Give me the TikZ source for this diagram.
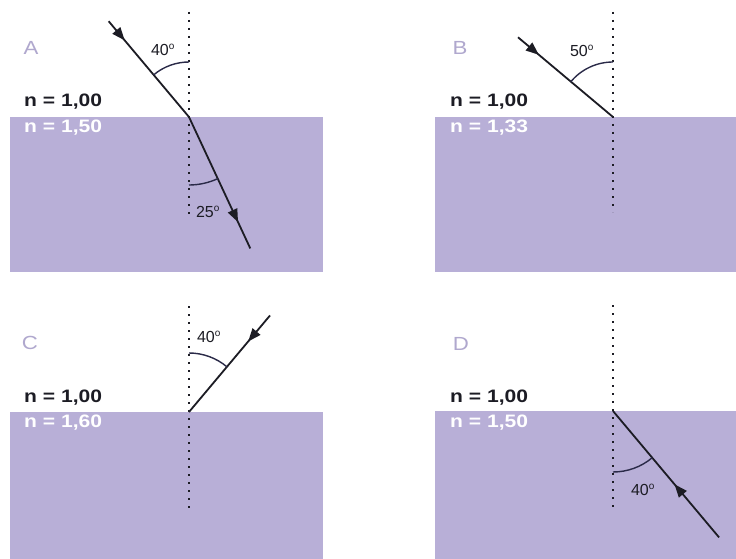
\documentclass[tikz,border=0pt]{standalone}
\usepackage{fontspec}
\setmainfont{Liberation Sans}
\newfontfamily\widesans[FakeStretch=1.17]{Liberation Sans}
\usetikzlibrary{arrows.meta,decorations.markings}
\definecolor{medium}{HTML}{B8AFD7}
\definecolor{letter}{HTML}{B0A8CE}
\definecolor{arccol}{HTML}{2A2A48}
\definecolor{ink}{HTML}{1C1C24}
\tikzset{
  medbox/.style={fill=medium,draw=none},
  normalline/.style={draw=ink,line width=2pt,dash pattern=on 2pt off 6pt},
  ray/.style={draw=ink,line width=1.8pt},
  anglearc/.style={draw=arccol,line width=1.4pt},
  panelletter/.style={text=letter,font=\widesans\fontsize{19}{19}\selectfont,inner sep=0pt},
  nlabel/.style={font=\widesans\fontsize{18}{18}\selectfont\bfseries,inner sep=0pt,anchor=west},
  anglabel/.style={text=ink,font=\fontsize{16}{16}\selectfont,inner sep=0pt},
  midarrow/.style={postaction={decorate},decoration={markings,mark=at position #1 with {\arrow{Triangle[length=13pt,width=10pt]}}}}
}
\newcommand{\dg}{\textsuperscript{\fontsize{10}{10}\selectfont o}}
\begin{document}
\begin{tikzpicture}[x=1pt,y=1pt]
\useasboundingbox (0,0) rectangle (736,-559);
\fill[white] (0,0) rectangle (736,-559);
% media
\path[medbox] (10,-117) rectangle (323,-272);
\path[medbox] (435,-117) rectangle (736,-272);
\path[medbox] (10,-412) rectangle (323,-559);
\path[medbox] (435,-411) rectangle (736,-559);
% interface points
\coordinate (PA) at (189,-117);
\coordinate (PB) at (613,-117);
\coordinate (PC) at (189,-412);
\coordinate (PD) at (613,-411);
% normals
\coordinate (NA1) at (189,-12);  \coordinate (NA2) at (189,-215);
\coordinate (NB1) at (613,-12);  \coordinate (NB2) at (613,-212);
\coordinate (NC1) at (189,-306); \coordinate (NC2) at (189,-508);
\coordinate (ND1) at (613,-305); \coordinate (ND2) at (613,-508);
\draw[normalline] (NA1) -- (NA2);
\draw[normalline] (NB1) -- (NB2);
\draw[normalline] (NC1) -- (NC2);
\draw[normalline] (ND1) -- (ND2);
% ray end points
\path (PA) ++(130:125) coordinate (SA);
\path (PA) ++(-65:145) coordinate (EA);
\path (PB) ++(140:124) coordinate (SB);
\path (PC) ++(50:126) coordinate (SC);
\path (PD) ++(-50:165) coordinate (SD);
% rays
\draw[ray,midarrow=0.2] (SA) -- (PA);
\draw[ray,midarrow=0.8] (PA) -- (EA);
\draw[ray,midarrow=0.22] (SB) -- (PB);
\draw[ray,midarrow=0.27] (SC) -- (PC);
\draw[ray,midarrow=0.42] (SD) -- (PD);
% angle arcs
\draw[anglearc] (PA) ++(90:55) arc[start angle=90,end angle=130,radius=55];
\draw[anglearc] (PA) ++(-90:68) arc[start angle=-90,end angle=-65,radius=68];
\draw[anglearc] (PB) ++(90:55) arc[start angle=90,end angle=140,radius=55];
\draw[anglearc] (PC) ++(90:59) arc[start angle=90,end angle=50,radius=59];
\draw[anglearc] (PD) ++(-90:61) arc[start angle=-90,end angle=-50,radius=61];
% angle labels
\node[anglabel] (la) at (163,-50) {40\dg};
\node[anglabel] (lar) at (208,-212) {25\dg};
\node[anglabel] (lb) at (582,-51) {50\dg};
\node[anglabel] (lc) at (209,-337) {40\dg};
\node[anglabel] (ld) at (643,-490) {40\dg};
% panel letters
\node[panelletter] (A) at (31,-48) {A};
\node[panelletter] (B) at (460,-48) {B};
\node[panelletter] (C) at (30,-343) {C};
\node[panelletter] (D) at (461,-344) {D};
% refractive indices
\node[nlabel,text=ink] (nA1) at (24,-102) {n = 1,00};
\node[nlabel,text=white] (nA2) at (24,-128) {n = 1,50};
\node[nlabel,text=ink] (nB1) at (450,-102) {n = 1,00};
\node[nlabel,text=white] (nB2) at (450,-128) {n = 1,33};
\node[nlabel,text=ink] (nC1) at (24,-398) {n = 1,00};
\node[nlabel,text=white] (nC2) at (24,-423) {n = 1,60};
\node[nlabel,text=ink] (nD1) at (450,-398) {n = 1,00};
\node[nlabel,text=white] (nD2) at (450,-423) {n = 1,50};
\end{tikzpicture}
\end{document}
